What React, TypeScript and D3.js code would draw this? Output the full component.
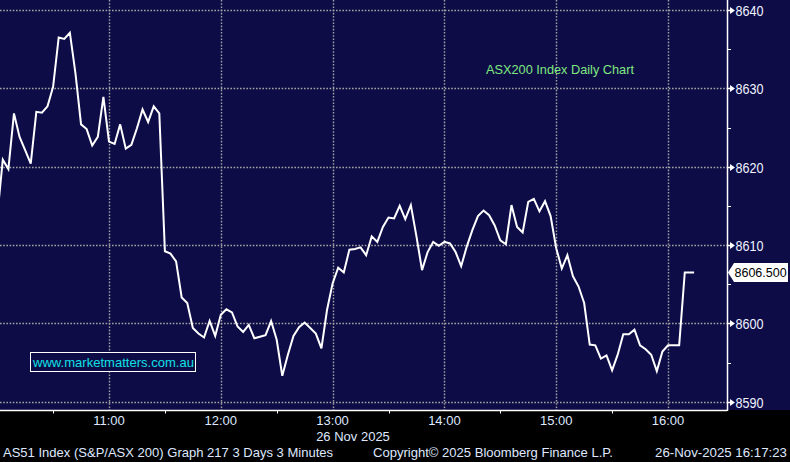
import React from "react";
import * as d3 from "d3";

const times: string[] = [
  "10:00","10:03","10:06","10:09","10:12","10:15","10:18","10:21","10:24","10:27",
  "10:30","10:33","10:36","10:39","10:42","10:45","10:48","10:51","10:54","10:57",
  "11:00","11:03","11:06","11:09","11:12","11:15","11:18","11:21","11:24","11:27",
  "11:30","11:33","11:36","11:39","11:42","11:45","11:48","11:51","11:54","11:57",
  "12:00","12:03","12:06","12:09","12:12","12:15","12:18","12:21","12:24","12:27",
  "12:30","12:33","12:36","12:39","12:42","12:45","12:48","12:51","12:54","12:57",
  "13:00","13:03","13:06","13:09","13:12","13:15","13:18","13:21","13:24","13:27",
  "13:30","13:33","13:36","13:39","13:42","13:45","13:48","13:51","13:54","13:57",
  "14:00","14:03","14:06","14:09","14:12","14:15","14:18","14:21","14:24","14:27",
  "14:30","14:33","14:36","14:39","14:42","14:45","14:48","14:51","14:54","14:57",
  "15:00","15:03","15:06","15:09","15:12","15:15","15:18","15:21","15:24","15:27",
  "15:30","15:33","15:36","15:39","15:42","15:45","15:48","15:51","15:54","15:57",
  "16:00","16:03","16:06","16:09","16:12","16:14",
];

const values: number[] = [
  8613.6, 8620.9, 8619.7, 8626.8, 8623.8, 8622.1, 8620.4, 8627.0, 8626.9, 8627.7,
  8630.2, 8636.5, 8636.3, 8637.1, 8631.9, 8625.4, 8624.8, 8622.7, 8623.8, 8628.9,
  8623.2, 8622.9, 8625.4, 8622.3, 8622.8, 8624.9, 8627.3, 8625.7, 8627.7, 8626.8,
  8609.2, 8608.9, 8607.9, 8603.3, 8602.6, 8599.4, 8598.7, 8598.2, 8600.3, 8598.4,
  8601.1, 8601.8, 8601.4, 8599.6, 8598.9, 8599.8, 8598.1, 8598.3, 8598.5, 8600.3,
  8597.9, 8593.3, 8596.0, 8598.4, 8599.5, 8600.1, 8599.4, 8598.7, 8596.8, 8601.7,
  8605.1, 8607.1, 8606.5, 8609.4, 8609.5, 8609.7, 8608.7, 8611.1, 8610.4, 8612.3,
  8613.5, 8613.4, 8615.0, 8613.3, 8615.1, 8611.1, 8606.8, 8609.1, 8610.4, 8609.9,
  8610.4, 8610.2, 8609.1, 8607.3, 8609.8, 8611.9, 8613.7, 8614.4, 8613.8, 8612.5,
  8610.6, 8610.1, 8615.1, 8612.3, 8611.6, 8615.5, 8615.9, 8614.3, 8615.6, 8613.7,
  8609.6, 8607.0, 8608.7, 8606.0, 8604.7, 8602.6, 8597.3, 8597.2, 8595.5, 8595.9,
  8594.0, 8596.0, 8598.6, 8598.6, 8599.2, 8597.2, 8596.7, 8596.0, 8593.9, 8596.4,
  8597.2, 8597.2, 8597.2, 8606.5, 8606.5, 8606.5,
];

const hourTicks: string[] = ["11:00", "12:00", "13:00", "14:00", "15:00", "16:00"];
const halfHourTicks: string[] = ["10:30", "11:30", "12:30", "13:30", "14:30", "15:30"];
const yMajorTicks: number[] = [8590, 8600, 8610, 8620, 8630, 8640];
const yMinorTicks: number[] = [8595, 8605, 8615, 8625, 8635];
const lastValue = 8606.5;
const title = "ASX200 Index Daily Chart";
const watermark = "www.marketmatters.com.au";
const dateLabel = "26 Nov 2025";
const footerLeft = "AS51 Index (S&P/ASX 200) Graph 217 3 Days 3 Minutes";
const footerMid = "Copyright\u00A9 2025 Bloomberg Finance L.P.";
const footerRight = "26-Nov-2025 16:17:23";

const W = 790;
const H = 462;
const plotRight = 727;
const axisY = 410;
const NAVY = "#0e0c47";
const FONT = "'Liberation Sans', Arial, sans-serif";

const toMin = (t: string) => {
  const [h, m] = t.split(":").map(Number);
  return (h - 10) * 60 + m;
};

export default function App() {
  const x = d3.scaleLinear().domain([0, 360]).range([-2.8, 668]);
  const y = d3.scaleLinear().domain([8590, 8640]).range([401.7, 10]);

  const data = times.map((t, i) => ({ m: toMin(t), v: values[i] }));
  const line = d3
    .line<{ m: number; v: number }>()
    .x((d) => x(d.m))
    .y((d) => y(d.v));

  const ly = y(lastValue);

  return (
    <svg
      width={W}
      height={H}
      style={{ position: "absolute", left: 0, top: 0, display: "block" }}
      fontFamily={FONT}
    >
      <defs>
        <clipPath id="plotClip">
          <rect x={0} y={0} width={plotRight} height={axisY} />
        </clipPath>
      </defs>
      <rect x={0} y={0} width={W} height={H} fill="#000" />
      <rect x={0} y={0} width={W} height={axisY} fill={NAVY} />

      {yMajorTicks.map((v) => (
        <line
          key={"hg" + v}
          x1={0}
          x2={plotRight}
          y1={Math.round(y(v)) + 0.5}
          y2={Math.round(y(v)) + 0.5}
          stroke="#a3a3a3"
          strokeWidth={1.4}
          strokeDasharray="1.6 1.6"
        />
      ))}
      {hourTicks.map((t) => (
        <line
          key={"vg" + t}
          x1={Math.round(x(toMin(t))) + 0.5}
          x2={Math.round(x(toMin(t))) + 0.5}
          y1={0}
          y2={axisY}
          stroke="#a3a3a3"
          strokeWidth={1.4}
          strokeDasharray="1.6 1.6"
        />
      ))}

      <text x={486} y={74} fill="#7fe87f" fontSize={13.5} textLength={148} lengthAdjust="spacingAndGlyphs">
        {title}
      </text>

      <rect x={30.5} y={352.5} width={165} height={19} fill={NAVY} stroke="#fff" strokeWidth={1} />
      <text x={33} y={366.5} fill="#10e0e6" fontSize={13.5} textLength={161} lengthAdjust="spacingAndGlyphs">
        {watermark}
      </text>

      <path
        d={line(data) || ""}
        fill="none"
        stroke="#fff"
        strokeWidth={2}
        strokeLinejoin="miter"
        clipPath="url(#plotClip)"
      />

      <line x1={0} x2={plotRight} y1={axisY + 0.5} y2={axisY + 0.5} stroke="#fff" strokeWidth={1.5} />
      {halfHourTicks.map((t) => (
        <line
          key={"xt" + t}
          x1={Math.round(x(toMin(t))) + 0.5}
          x2={Math.round(x(toMin(t))) + 0.5}
          y1={axisY}
          y2={axisY + 3.5}
          stroke="#fff"
          strokeWidth={1}
        />
      ))}
      {hourTicks.map((t) => (
        <text
          key={"xl" + t}
          x={x(toMin(t))}
          y={424.5}
          fill="#dfe8ff"
          fontSize={13}
          textAnchor="middle"
        >
          {t}
        </text>
      ))}
      <text x={353} y={440.5} fill="#dfe8ff" fontSize={13} textAnchor="middle">
        {dateLabel}
      </text>

      <line x1={plotRight + 0.5} x2={plotRight + 0.5} y1={0} y2={axisY + 1} stroke="#fff" strokeWidth={1.5} />
      {yMinorTicks.map((v) => (
        <line
          key={"ym" + v}
          x1={plotRight}
          x2={plotRight + 4}
          y1={Math.round(y(v)) + 0.5}
          y2={Math.round(y(v)) + 0.5}
          stroke="#fff"
          strokeWidth={1}
        />
      ))}
      {yMajorTicks.map((v) => {
        const yy = Math.round(y(v)) + 0.5;
        return (
          <g key={"yl" + v}>
            <path
              d={`M${plotRight},${yy - 0.8} L${plotRight + 3},${yy - 0.8} L${plotRight + 3},${yy - 3.5} L${plotRight + 8},${yy} L${plotRight + 3},${yy + 3.5} L${plotRight + 3},${yy + 0.8} L${plotRight},${yy + 0.8} Z`}
              fill="#fff"
            />
            <text x={735.5} y={yy + 5} fill="#eef3ff" fontSize={14} textLength={28} lengthAdjust="spacingAndGlyphs">
              {d3.format("d")(v)}
            </text>
          </g>
        );
      })}

      <path
        d={`M${plotRight + 1},${ly} L${plotRight + 7},${ly - 9.5} L788,${ly - 9.5} L788,${ly + 9.5} L${plotRight + 7},${ly + 9.5} Z`}
        fill="#fff"
      />
      <text x={734.5} y={ly + 4.8} fill="#000" fontSize={12.5}>
        {d3.format(".3f")(lastValue)}
      </text>

      <text x={3} y={457} fill="#dfe8ff" fontSize={13} textLength={330} lengthAdjust="spacingAndGlyphs">
        {footerLeft}
      </text>
      <text x={373} y={457} fill="#dfe8ff" fontSize={13} textLength={240} lengthAdjust="spacingAndGlyphs">
        {footerMid}
      </text>
      <text x={655} y={457} fill="#dfe8ff" fontSize={13} textLength={132} lengthAdjust="spacingAndGlyphs">
        {footerRight}
      </text>
    </svg>
  );
}
